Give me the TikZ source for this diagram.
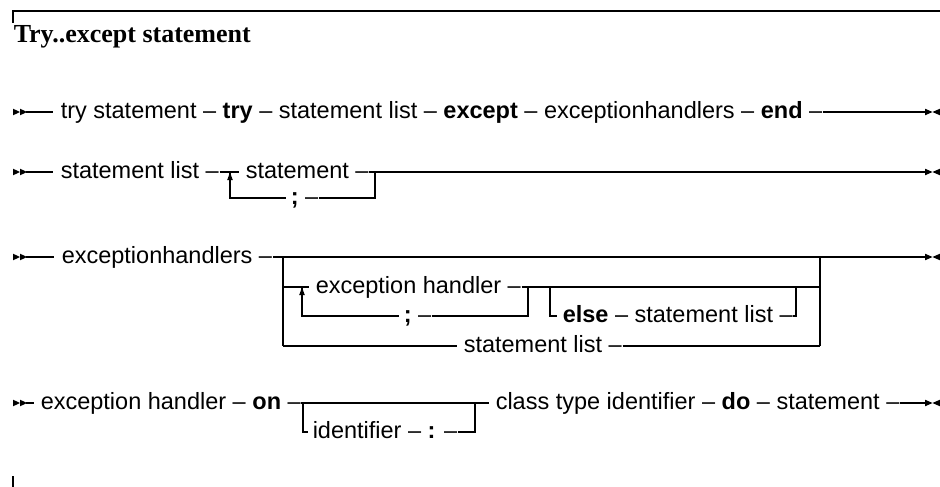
\documentclass[tikz,border=0pt]{standalone}
\usepackage{fontspec}
\setmainfont{Liberation Serif}
\setsansfont{Liberation Sans}
\begin{document}
\begin{tikzpicture}[x=1pt,y=-1pt,
  line width=1.5pt,
  lbl/.style={inner sep=0pt, anchor=west, text height=16pt, text depth=2.8pt,
    font=\sffamily\fontsize{23.5}{28}\selectfont},
  frame/.style={line width=1.8pt},
  startmark/.pic={\fill (0,-3.3) -- (7,0) -- (0,3.3) -- cycle;
                  \fill (7,-3.3) -- (14,0) -- (7,3.3) -- cycle;},
  endmark/.pic={\fill (-15,-3.3) -- (-7.5,0) -- (-15,3.3) -- cycle;
                \fill (0,-3.3) -- (-7.5,0) -- (0,3.3) -- cycle;},
  uparrow/.pic={\fill (0,0.5) -- (-2.8,8) -- (2.8,8) -- cycle;}
]
\useasboundingbox (0,0) rectangle (940,487);

% frame
\draw[frame] (13,23) -- (13,11) -- (940,11);
\draw[frame] (13,476) -- (13,487);

% title
\node[anchor=base west, inner sep=0pt, font=\rmfamily\bfseries\fontsize{26}{30}\selectfont]
  (title) at (13,43) {Try..except statement};

% ---------- row 1 ----------
\coordinate (s1) at (13,112);
\coordinate (e1) at (940,112);
\pic at (s1) {startmark};
\node[lbl] (t1) at (60,112) {try statement – \textbf{try} – statement list – \textbf{except} – exceptionhandlers – \textbf{end} –};
\draw ([xshift=13pt]s1) -- ([xshift=-7pt]t1.west);
\draw (t1.east) -- ([xshift=-15pt]e1);
\pic at (e1) {endmark};

% ---------- row 2 ----------
\coordinate (s2) at (13,172);
\coordinate (e2) at (940,172);
\pic at (s2) {startmark};
\node[lbl] (t2) at (60,172) {statement list –};
\coordinate (j2a) at (230,172);
\coordinate (j2d) at (230,198);
\node[lbl] (t2s) at (245,172) {statement –};
\node[lbl] (t2semi) at (290,198) {\textbf{;} –};
\coordinate (j2b) at (375,172);
\coordinate (j2c) at (375,198);
\draw ([xshift=13pt]s2) -- ([xshift=-7pt]t2.west);
\draw (t2.east) -- ([xshift=-6pt]t2s.west);
\draw (t2s.east) -- (j2b) -- ([xshift=-15pt]e2);
\draw (j2a) -- (j2d) -- ([xshift=-4pt]t2semi.west);
\draw (t2semi.east) -- (j2c) -- (j2b);
\pic at (j2a) {uparrow};
\pic at (e2) {endmark};

% ---------- row 3 ----------
\coordinate (s3) at (13,257);
\coordinate (e3) at (940,257);
\pic at (s3) {startmark};
\node[lbl] (t3) at (61,257) {exceptionhandlers –};
\coordinate (b3l) at (283,257);
\coordinate (b3r) at (820,257);
\coordinate (m3l) at (283,287);
\coordinate (m3r) at (820,287);
\coordinate (b3lb) at (283,346);
\coordinate (b3rb) at (820,346);
\draw ([xshift=13pt]s3) -- ([xshift=-7pt]t3.west);
\draw (t3.east) -- ([xshift=-15pt]e3);
\draw (b3l) -- (b3lb);
\draw (b3r) -- (b3rb);
% loop of exception handlers
\coordinate (lp3) at (302,287);
\coordinate (lp3b) at (302,316);
\node[lbl] (t3h) at (315,287) {exception handler –};
\node[lbl] (t3semi) at (403,316) {\textbf{;} –};
\coordinate (lp3r) at (528,287);
\coordinate (lp3rb) at (528,316);
\draw (m3l) -- ([xshift=-6pt]t3h.west);
\draw (t3h.east) -- (m3r);
\draw (lp3) -- (lp3b) -- ([xshift=-4pt]t3semi.west);
\draw (t3semi.east) -- (lp3rb) -- (lp3r);
\pic at (lp3) {uparrow};
% optional else
\coordinate (el3) at (550,287);
\coordinate (el3b) at (550,316);
\node[lbl] (t3e) at (562,316) {\textbf{else} – statement list –};
\coordinate (el3rb) at (796,316);
\coordinate (el3r) at (796,287);
\draw (el3) -- (el3b) -- ([xshift=-5pt]t3e.west);
\draw (t3e.east) -- (el3rb) -- (el3r);
% bottom alternative
\node[lbl] (t3b) at (463,346) {statement list –};
\draw (b3lb) -- ([xshift=-6pt]t3b.west);
\draw (t3b.east) -- (b3rb);
\pic at (e3) {endmark};

% ---------- row 4 ----------
\coordinate (s4) at (13,403);
\coordinate (e4) at (940,403);
\pic at (s4) {startmark};
\node[lbl] (t4) at (40,403) {exception handler – \textbf{on} –};
\coordinate (b4l) at (303,403);
\coordinate (b4lb) at (303,432);
\coordinate (b4r) at (475,403);
\coordinate (b4rb) at (475,432);
\node[lbl] (t4i) at (312,432) {identifier – \textbf{:} –};
\node[lbl] (t4c) at (495,403) {class type identifier – \textbf{do} – statement –};
\draw ([xshift=13pt]s4) -- ([xshift=-6pt]t4.west);
\draw (t4.east) -- ([xshift=-6pt]t4c.west);
\draw (b4l) -- (b4lb) -- ([xshift=-4pt]t4i.west);
\draw (t4i.east) -- (b4rb) -- (b4r);
\draw (t4c.east) -- ([xshift=-15pt]e4);
\pic at (e4) {endmark};
\end{tikzpicture}
\end{document}
